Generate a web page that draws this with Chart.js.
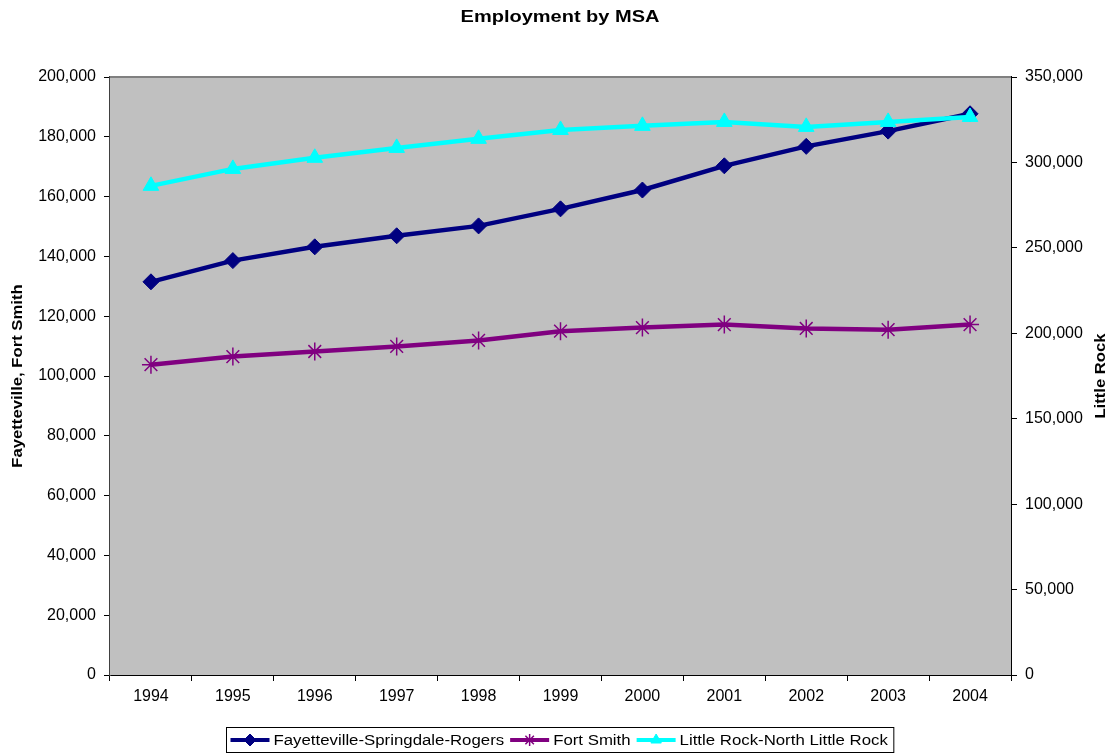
<!DOCTYPE html>
<html>
<head>
<meta charset="utf-8">
<script src="https://cdn.jsdelivr.net/npm/chart.js@4.4.1/dist/chart.umd.min.js"></script>
<style>
  html, body { margin: 0; padding: 0; background: #ffffff; }
  #wrap { width: 1116px; height: 755px; }
</style>
</head>
<body>
<div id="wrap"><canvas id="c" width="1116" height="755"></canvas></div>
<script>
const years = ['1994','1995','1996','1997','1998','1999','2000','2001','2002','2003','2004'];
const fayetteville = [131500, 138600, 143200, 146900, 150200, 155900, 162200, 170300, 176800, 181900, 187700];
const fortSmith = [103800, 106500, 108200, 109900, 111900, 115000, 116200, 117200, 115900, 115500, 117200];
const littleRock = [286300, 296200, 302700, 308500, 313800, 319000, 321400, 323700, 320800, 323700, 326600];
const seriesNames = ['Fayetteville-Springdale-Rogers', 'Fort Smith', 'Little Rock-North Little Rock'];
const chartTitle = 'Employment by MSA';
const leftTitle = 'Fayetteville, Fort Smith';
const rightTitle = 'Little Rock';

const FONT = 'Arial, "Liberation Sans", Helvetica, sans-serif';

function stretchedText(ctx, text, x, y, font, sx, rot, align) {
  ctx.save();
  ctx.translate(x, y);
  if (rot) ctx.rotate(rot);
  ctx.scale(sx, 1);
  ctx.font = font;
  ctx.fillStyle = '#000';
  ctx.textAlign = align || 'center';
  ctx.textBaseline = 'middle';
  ctx.fillText(text, 0, 0);
  ctx.restore();
}

const decor = {
  id: 'decor',
  beforeDatasetsDraw(chart) {
    const {ctx, chartArea: a} = chart;
    ctx.save();
    ctx.fillStyle = '#C0C0C0';
    ctx.fillRect(a.left, a.top, a.right - a.left, a.bottom - a.top);
    ctx.strokeStyle = '#808080';
    ctx.lineWidth = 2;
    ctx.beginPath();
    ctx.moveTo(a.left, a.top);
    ctx.lineTo(a.right, a.top);
    ctx.stroke();
    ctx.restore();
  },
  afterDraw(chart) {
    const ctx = chart.ctx;
    const a = chart.chartArea;
    stretchedText(ctx, chartTitle, 560, 18, 'bold 16px ' + FONT, 1.25, 0);
    stretchedText(ctx, leftTitle, 18, (a.top + a.bottom) / 2, 'bold 14px ' + FONT, 1.19, -Math.PI / 2);
    stretchedText(ctx, rightTitle, 1101, (a.top + a.bottom) / 2, 'bold 14px ' + FONT, 1.19, -Math.PI / 2);

    // legend
    const sx = 1.2;
    const font = '14px ' + FONT;
    ctx.save();
    ctx.font = font;
    const sample = 39, gap1 = 4, gap2 = 6, padL = 4, padR = 6;
    const widths = seriesNames.map(n => ctx.measureText(n).width * sx);
    let total = padL + padR;
    widths.forEach((w, i) => { total += sample + gap1 + w + (i < widths.length - 1 ? gap2 : 0); });
    const bx = Math.round(560 - total / 2) + 0.5, by = 727.5, bh = 25;
    ctx.strokeStyle = '#000';
    ctx.lineWidth = 1;
    ctx.strokeRect(bx, by, total, bh);
    let x = bx + padL;
    const cy = by + bh / 2;
    chart.data.datasets.forEach((ds, i) => {
      ctx.strokeStyle = ds.borderColor;
      ctx.lineWidth = 4;
      ctx.beginPath();
      ctx.moveTo(x, cy);
      ctx.lineTo(x + sample, cy);
      ctx.stroke();
      ctx.fillStyle = ds.pointBackgroundColor;
      ctx.strokeStyle = ds.pointBorderColor;
      ctx.lineWidth = ds.pointBorderWidth;
      Chart.helpers.drawPoint(ctx, {
        pointStyle: ds.pointStyle, rotation: 0, borderWidth: ds.pointBorderWidth, radius: 6
      }, x + sample / 2, cy);
      x += sample + gap1;
      stretchedText(ctx, seriesNames[i], x, cy + 1, font, sx, 0, 'left');
      x += widths[i] + gap2;
    });
    ctx.restore();
  }
};

new Chart(document.getElementById('c'), {
  type: 'line',
  data: {
    labels: years,
    datasets: [
      {
        label: seriesNames[0], data: fayetteville, yAxisID: 'y',
        borderColor: '#000080', backgroundColor: '#000080',
        pointBackgroundColor: '#000080', pointBorderColor: '#000080',
        pointStyle: 'rectRot', pointRadius: 8, pointBorderWidth: 1,
        borderWidth: 4.5, tension: 0, order: 3
      },
      {
        label: seriesNames[1], data: fortSmith, yAxisID: 'y',
        borderColor: '#800080', backgroundColor: '#800080',
        pointBackgroundColor: '#800080', pointBorderColor: '#800080',
        pointStyle: 'star', pointRadius: 9, pointBorderWidth: 1.5,
        borderWidth: 4.5, tension: 0, order: 2
      },
      {
        label: seriesNames[2], data: littleRock, yAxisID: 'y1',
        borderColor: '#00FFFF', backgroundColor: '#00FFFF',
        pointBackgroundColor: '#00FFFF', pointBorderColor: '#00FFFF',
        pointStyle: 'triangle', pointRadius: 9, pointBorderWidth: 1,
        borderWidth: 4.5, tension: 0, order: 1
      }
    ]
  },
  options: {
    responsive: false,
    animation: false,
    layout: {padding: {top: 77, bottom: 40, left: 0, right: 0}},
    plugins: {
      legend: {display: false},
      title: {display: false},
      tooltip: {enabled: false}
    },
    scales: {
      x: {
        type: 'category',
        offset: true,
        grid: {offset: true, drawOnChartArea: false, drawTicks: true, tickLength: 6, color: '#000', lineWidth: 1},
        border: {color: '#000', width: 2},
        ticks: {color: '#000', padding: 6, font: {family: FONT, size: 16}, maxRotation: 0},
        afterFit(s) { s.height = 40; }
      },
      y: {
        position: 'left',
        min: 0, max: 200000,
        grid: {drawOnChartArea: false, tickLength: 6, color: '#000'},
        border: {color: '#404040', width: 2},
        ticks: {
          stepSize: 20000, color: '#000', padding: 8,
          font: {family: FONT, size: 16},
          callback: v => v.toLocaleString('en-US')
        },
        afterFit(s) { s.width = 110; }
      },
      y1: {
        position: 'right',
        min: 0, max: 350000,
        grid: {drawOnChartArea: false, tickLength: 6, color: '#000'},
        border: {color: '#000', width: 2},
        ticks: {
          stepSize: 50000, color: '#000', padding: 8,
          font: {family: FONT, size: 16},
          callback: v => v.toLocaleString('en-US')
        },
        afterFit(s) { s.width = 105; }
      }
    }
  },
  plugins: [decor]
});
</script>
</body>
</html>
